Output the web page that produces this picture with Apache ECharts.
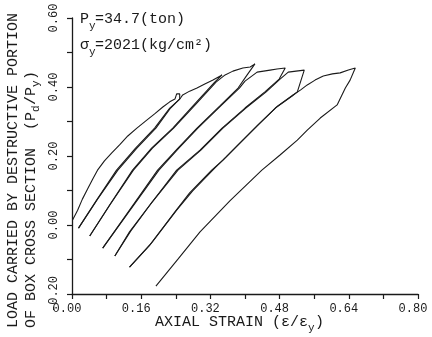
<!DOCTYPE html>
<html>
<head>
<meta charset="utf-8">
<script src="https://cdn.jsdelivr.net/npm/echarts@6/dist/echarts.min.js"></script>
<style>
  html, body { margin: 0; padding: 0; background: #fff; }
  #chart { width: 432px; height: 337px; }
</style>
</head>
<body>
<div id="chart"></div>
<script>
// axis ticks
const xTicks = [0, 0.16, 0.32, 0.48, 0.64, 0.8];
const yTicks = [-0.2, 0, 0.2, 0.4, 0.6];

// each cycle: reload (or first load) up to a peak, then unload straight down
const cycle1 = [
  [0.001, 0.014], [0.013, 0.043], [0.024, 0.075], [0.036, 0.104], [0.048, 0.133],
  [0.059, 0.159], [0.075, 0.186], [0.092, 0.209], [0.110, 0.232], [0.129, 0.258],
  [0.150, 0.281], [0.170, 0.301], [0.191, 0.322], [0.210, 0.342], [0.226, 0.357],
  [0.238, 0.365], [0.242, 0.380], [0.249, 0.380], [0.249, 0.365],
  [0.226, 0.339], [0.191, 0.281], [0.147, 0.223], [0.103, 0.159], [0.057, 0.072],
  [0.015, -0.009]
];
const cycle2 = [
  [0.015, -0.009], [0.059, 0.075], [0.106, 0.159], [0.150, 0.223], [0.194, 0.281],
  [0.228, 0.339], [0.251, 0.368], [0.256, 0.377], [0.272, 0.388], [0.289, 0.397],
  [0.307, 0.409], [0.326, 0.420], [0.347, 0.435],
  [0.330, 0.414], [0.284, 0.351], [0.233, 0.281], [0.184, 0.223], [0.140, 0.159],
  [0.087, 0.058], [0.041, -0.032]
];
const cycle3 = [
  [0.041, -0.032], [0.089, 0.061], [0.142, 0.159], [0.186, 0.223], [0.235, 0.281],
  [0.287, 0.351], [0.333, 0.414], [0.354, 0.435], [0.372, 0.446], [0.395, 0.455],
  [0.412, 0.458], [0.423, 0.467],
  [0.405, 0.435], [0.384, 0.397], [0.342, 0.345], [0.289, 0.281], [0.245, 0.223],
  [0.198, 0.159], [0.133, 0.043], [0.071, -0.067]
];
const cycle4 = [
  [0.071, -0.067], [0.136, 0.046], [0.201, 0.159], [0.247, 0.223], [0.291, 0.281],
  [0.344, 0.345], [0.387, 0.397], [0.400, 0.417], [0.428, 0.443], [0.458, 0.449],
  [0.474, 0.452], [0.493, 0.455],
  [0.479, 0.423], [0.446, 0.386], [0.400, 0.339], [0.347, 0.281], [0.296, 0.217],
  [0.242, 0.159], [0.180, 0.058], [0.133, -0.020], [0.099, -0.090]
];
const cycle5 = [
  [0.099, -0.090], [0.136, -0.017], [0.182, 0.061], [0.245, 0.159], [0.298, 0.217],
  [0.349, 0.281], [0.402, 0.339], [0.449, 0.386], [0.481, 0.423], [0.500, 0.443],
  [0.518, 0.446], [0.537, 0.449],
  [0.521, 0.386], [0.509, 0.374], [0.470, 0.339], [0.423, 0.281], [0.384, 0.232],
  [0.349, 0.188], [0.323, 0.159], [0.272, 0.093], [0.238, 0.038], [0.180, -0.058],
  [0.133, -0.122]
];
const cycle6 = [
  [0.133, -0.122], [0.184, -0.052], [0.242, 0.043], [0.279, 0.099], [0.330, 0.165],
  [0.356, 0.197], [0.391, 0.241], [0.430, 0.290], [0.476, 0.345], [0.511, 0.377],
  [0.528, 0.391], [0.544, 0.406], [0.562, 0.420], [0.581, 0.432], [0.602, 0.438],
  [0.620, 0.441], [0.639, 0.449], [0.655, 0.455],
  [0.643, 0.420], [0.632, 0.397], [0.613, 0.348], [0.574, 0.310], [0.544, 0.275],
  [0.521, 0.246], [0.481, 0.203], [0.439, 0.159], [0.365, 0.070], [0.296, -0.020],
  [0.245, -0.099], [0.194, -0.177]
];
const cycles = [cycle1, cycle2, cycle3, cycle4, cycle5, cycle6];

const ink = '#1a1a1a';
const mono = '"Liberation Mono", "DejaVu Sans Mono", monospace';

function txt(x, y, text, size) {
  return {
    type: 'text', x: x, y: y, silent: true,
    style: {
      text: text, fontSize: size, fontFamily: mono, fill: ink,
      textAlign: 'left', textVerticalAlign: 'middle'
    }
  };
}

const chart = echarts.init(document.getElementById('chart'), null, { renderer: 'canvas' });

chart.setOption({
  animation: false,
  backgroundColor: '#fff',
  grid: { left: 72, right: 14, top: 18, bottom: 43 },
  xAxis: {
    type: 'value',
    min: xTicks[0],
    max: xTicks[xTicks.length - 1],
    interval: 0.16,
    axisLine: { show: true, onZero: false, lineStyle: { color: ink, width: 1.3 } },
    axisTick: { show: true, length: 5, lineStyle: { color: ink, width: 1.2 } },
    minorTick: { show: true, splitNumber: 2, length: 5, lineStyle: { color: ink, width: 1.2 } },
    splitLine: { show: false },
    axisLabel: {
      color: ink, fontFamily: mono, fontSize: 12, margin: 9,
      padding: [0, 10, 0, 0],
      formatter: v => v.toFixed(2)
    }
  },
  yAxis: {
    type: 'value',
    min: yTicks[0],
    max: yTicks[yTicks.length - 1],
    interval: 0.2,
    axisLine: { show: true, onZero: false, lineStyle: { color: ink, width: 1.3 } },
    axisTick: { show: true, length: 5, lineStyle: { color: ink, width: 1.2 } },
    minorTick: { show: true, splitNumber: 2, length: 5, lineStyle: { color: ink, width: 1.2 } },
    splitLine: { show: false },
    axisLabel: {
      color: ink, fontFamily: mono, fontSize: 12, margin: 12, rotate: 90,
      formatter: v => v.toFixed(2)
    }
  },
  series: cycles.map((c, i) => ({
    name: 'cycle ' + (i + 1),
    type: 'line',
    data: c,
    symbol: 'none',
    smooth: false,
    lineStyle: { color: ink, width: 1.1 }
  })),
  graphic: [
    // annotations
    txt(80, 19, 'P', 15),
    txt(89, 26, 'y', 11),
    txt(95, 19, '=34.7(ton)', 15),
    txt(80, 45, 'σ', 15),
    txt(89, 52, 'y', 11),
    txt(95, 45, '=2021(kg/cm²)', 15),
    // x axis title
    txt(155, 322, 'AXIAL STRAIN (ε/ε', 15),
    txt(308, 328, 'y', 11),
    txt(315, 322, ')', 15),
    // y axis title, rotated
    {
      type: 'group', x: 0, y: 328, rotation: Math.PI / 2,
      children: [
        txt(0, 13, 'LOAD CARRIED BY DESTRUCTIVE PORTION', 15),
        txt(0, 31, 'OF BOX CROSS SECTION  (P', 15),
        txt(216, 36, 'd', 11),
        txt(223, 31, '/P', 15),
        txt(241, 36, 'y', 11),
        txt(248, 31, ')', 15)
      ]
    }
  ]
});
</script>
</body>
</html>
